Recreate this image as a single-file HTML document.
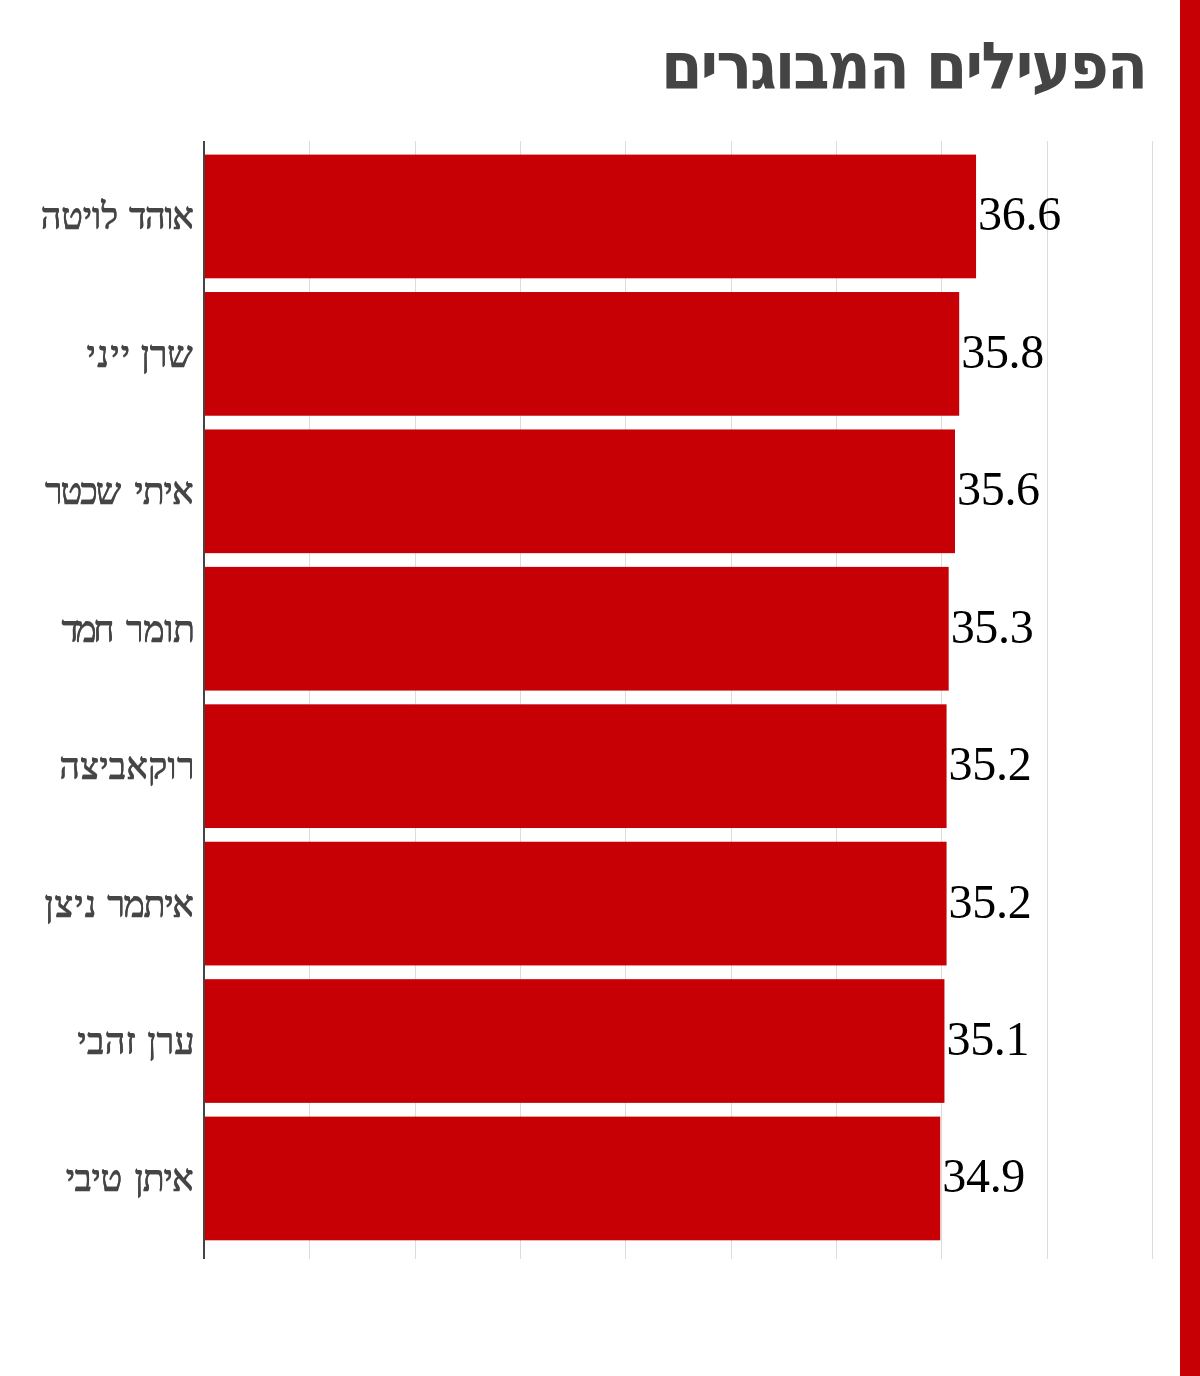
<!DOCTYPE html>
<html lang="he">
<head>
<meta charset="utf-8">
<title>הפעילים המבוגרים</title>
<style>
html,body{margin:0;padding:0;background:#fff;}
body{width:1200px;height:1376px;overflow:hidden;position:relative;}
svg{display:block;position:absolute;left:0;top:0;}
.title{font-family:"DejaVu Sans","Liberation Sans",sans-serif;font-weight:bold;font-size:65px;fill:#444;}
.ylab{font-family:"Liberation Serif","DejaVu Serif",serif;font-size:36px;fill:#444;stroke:#444;stroke-width:0.25px;}
.val{font-family:"Liberation Serif","DejaVu Serif",serif;font-size:48px;fill:#000;letter-spacing:-0.3px;}
</style>
</head>
<body>
<svg width="1200" height="1376" viewBox="0 0 1200 1376">
<defs><filter id="hb" x="-5%" y="-20%" width="110%" height="140%"><feOffset dy="-1" result="o"/><feMerge><feMergeNode in="o"/><feMergeNode in="SourceGraphic"/></feMerge></filter></defs>
<rect x="0" y="0" width="1200" height="1376" fill="#fff"/>
<rect x="1180" y="0" width="20" height="1376" fill="#c70005"/>
<g shape-rendering="crispEdges" fill="#dcdcdc">
<rect x="309" y="141" width="1" height="1118"/>
<rect x="415" y="141" width="1" height="1118"/>
<rect x="520" y="141" width="1" height="1118"/>
<rect x="625" y="141" width="1" height="1118"/>
<rect x="731" y="141" width="1" height="1118"/>
<rect x="836" y="141" width="1" height="1118"/>
<rect x="941" y="141" width="1" height="1118"/>
<rect x="1047" y="141" width="1" height="1118"/>
<rect x="1152" y="141" width="1" height="1118"/>
</g>
<g fill="#c70005">
<rect x="205" y="154.60" width="771.05" height="123.70"/>
<rect x="205" y="292.03" width="754.20" height="123.70"/>
<rect x="205" y="429.46" width="749.99" height="123.70"/>
<rect x="205" y="566.89" width="743.67" height="123.70"/>
<rect x="205" y="704.32" width="741.56" height="123.70"/>
<rect x="205" y="841.75" width="741.56" height="123.70"/>
<rect x="205" y="979.18" width="739.45" height="123.70"/>
<rect x="205" y="1116.61" width="735.24" height="123.70"/>
</g>
<rect x="203" y="141" width="2" height="1118" fill="#444"/>
<g class="ylab" text-anchor="end">
<text x="192.50" y="229.35" word-spacing="3.600" filter="url(#hb)"><tspan letter-spacing="-1.350">אוהד </tspan><tspan letter-spacing="-0.180">לויטה</tspan></text>
<text x="192.50" y="366.78" word-spacing="0.450" filter="url(#hb)"><tspan letter-spacing="-0.225">שרן </tspan><tspan letter-spacing="1.290">ייני</tspan></text>
<text x="192.50" y="504.21" word-spacing="7.200" filter="url(#hb)"><tspan letter-spacing="-1.050">איתי </tspan><tspan letter-spacing="-2.100">שכטר</tspan></text>
<text x="194.50" y="641.64" word-spacing="6.300" filter="url(#hb)"><tspan letter-spacing="-0.450">תומר </tspan><tspan letter-spacing="-3.375">חמד</tspan></text>
<text x="194.80" y="779.07" word-spacing="0.000" filter="url(#hb)"><tspan letter-spacing="0.167">רוקאביצה</tspan></text>
<text x="192.50" y="916.50" word-spacing="2.250" filter="url(#hb)"><tspan letter-spacing="-1.350">איתמר </tspan><tspan letter-spacing="0.900">ניצן</tspan></text>
<text x="194.50" y="1053.93" word-spacing="2.250" filter="url(#hb)"><tspan letter-spacing="0.000">ערן </tspan><tspan letter-spacing="0.300">זהבי</tspan></text>
<text x="192.50" y="1191.36" word-spacing="4.950" filter="url(#hb)"><tspan letter-spacing="-1.050">איתן </tspan><tspan letter-spacing="-0.510">טיבי</tspan></text>
</g>
<g class="val">
<text x="978.05" y="230.45">36.6</text>
<text x="961.20" y="367.88">35.8</text>
<text x="956.99" y="505.31">35.6</text>
<text x="950.67" y="642.74">35.3</text>
<text x="948.56" y="780.17">35.2</text>
<text x="948.56" y="917.60">35.2</text>
<text x="946.45" y="1055.03">35.1</text>
<text x="942.24" y="1192.46">34.9</text>
</g>
<text class="title" transform="translate(1146.40,88.6) scale(0.9200,1)" text-anchor="end" word-spacing="-1.263"><tspan letter-spacing="-1.943">הפעילים </tspan><tspan letter-spacing="-2.237">המבוגרים</tspan></text>
</svg>
</body>
</html>
